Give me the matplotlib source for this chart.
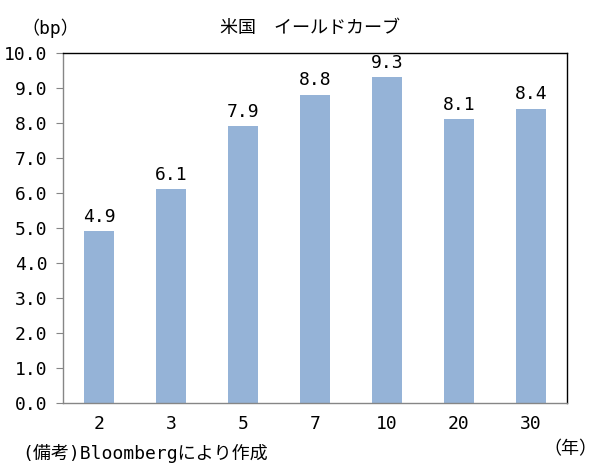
import matplotlib
matplotlib.use("Agg")
import matplotlib.pyplot as plt

plt.rcParams['font.family'] = ['DejaVu Sans Mono', 'Noto Sans CJK JP']

maturities = ["2", "3", "5", "7", "10", "20", "30"]
spread_bp = [4.9, 6.1, 7.9, 8.8, 9.3, 8.1, 8.4]
y_ticks = [0, 1, 2, 3, 4, 5, 6, 7, 8, 9, 10]

title = "米国　イールドカーブ"
unit_label = "（bp）"
x_unit = "（年）"
note = "(備考)Bloombergにより作成"

bar_color = "#95B3D7"
axis_gray = "#868686"

fig = plt.figure(figsize=(5.97, 4.71), dpi=100)
ax = fig.add_axes([0.1055, 0.1444, 0.8442, 0.7431])

x = range(len(maturities))
bars = ax.bar(x, spread_bp, width=0.42, color=bar_color, zorder=2)

for rect, v in zip(bars, spread_bp):
    ax.annotate(f"{v:.1f}", (rect.get_x() + rect.get_width() / 2, v),
                xytext=(0, 4), textcoords="offset points",
                ha="center", va="bottom", fontsize=13)

ax.set_xlim(-0.5, len(maturities) - 0.5)
ax.set_ylim(0, 10)
ax.set_yticks(y_ticks)
ax.set_yticklabels([f"{t:.1f}" for t in y_ticks], fontsize=13)
ax.set_xticks(list(x))
ax.set_xticklabels(maturities, fontsize=13)
ax.tick_params(axis="x", length=0, pad=9)
ax.tick_params(axis="y", length=5, color=axis_gray, pad=6)

ax.spines["left"].set_color(axis_gray)
ax.spines["bottom"].set_color(axis_gray)
ax.spines["top"].set_color("black")
ax.spines["right"].set_color("black")
for s in ax.spines.values():
    s.set_linewidth(1.0)

fig.text(0.52, 0.94, title, ha="center", va="center", fontsize=13)
fig.text(0.085, 0.94, unit_label, ha="center", va="center", fontsize=13)
fig.text(0.955, 0.047, x_unit, ha="center", va="center", fontsize=13)
fig.text(0.037, 0.037, note, ha="left", va="center", fontsize=13)

fig.savefig("out.png", dpi=100)
